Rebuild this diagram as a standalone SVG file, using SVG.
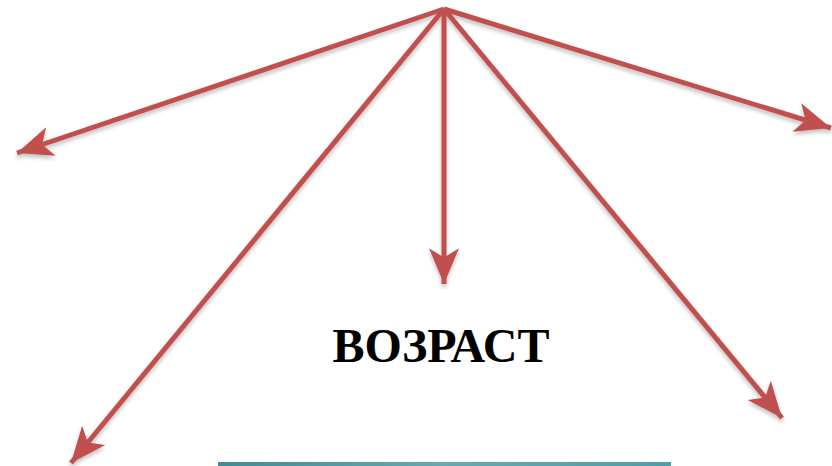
<svg xmlns="http://www.w3.org/2000/svg" width="832" height="466" viewBox="0 0 832 466">
<style>
.c{stroke:#c0504d;stroke-width:5;fill:none;marker-end:url(#ah)}
.t{font-family:"Liberation Serif","Times New Roman",serif;font-weight:bold;font-size:48px;fill:#000}
</style>
<defs>
<marker id="ah" markerUnits="userSpaceOnUse" markerWidth="40" markerHeight="30" viewBox="0 0 32 26" refX="31" refY="13" orient="auto" overflow="visible">
<path d="M0,0 L31,13 L0,26 L8,13 Z" fill="#c0504d"/>
</marker>
<linearGradient id="tg" x1="0" x2="1" y1="0" y2="0">
<stop offset="0" stop-color="#3f8c95"/>
<stop offset="0.5" stop-color="#6aa8b0"/>
<stop offset="1" stop-color="#4e9ea7"/>
</linearGradient>
<filter id="sh" x="-10%" y="-10%" width="120%" height="130%">
<feGaussianBlur in="SourceAlpha" stdDeviation="2"/>
<feOffset dx="0" dy="3"/>
<feComponentTransfer><feFuncA type="linear" slope="0.25"/></feComponentTransfer>
<feMerge><feMergeNode/><feMergeNode in="SourceGraphic"/></feMerge>
</filter>
</defs>
<rect width="832" height="466" fill="#fff"/>
<g id="connectors" filter="url(#sh)">
<path class="c" d="M444,9 L17,153"/>
<path class="c" d="M444,9 L831,128"/>
<path class="c" d="M444,9 L444,284"/>
<path class="c" d="M444,9 L71,463"/>
<path class="c" d="M444,9 L782,418"/>
</g>
<g id="label">
<text class="t" x="441" y="362" text-anchor="middle">ВОЗРАСТ</text>
</g>
<rect x="218" y="462" width="453" height="4" fill="url(#tg)"/>
</svg>
